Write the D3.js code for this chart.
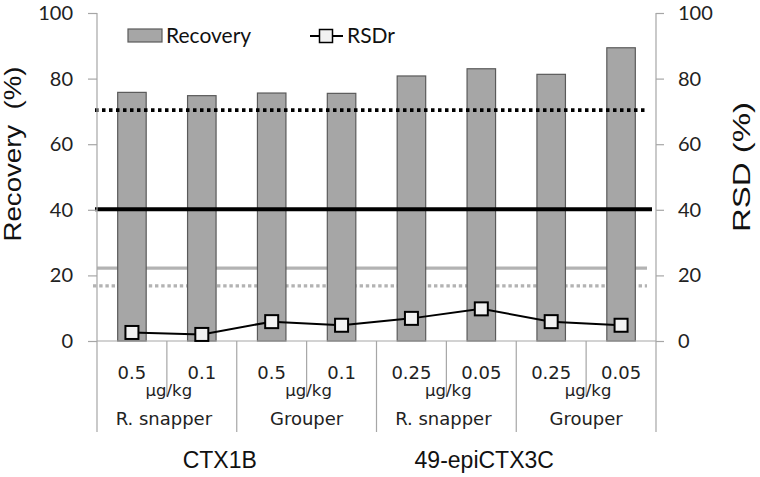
<!DOCTYPE html>
<html><head><meta charset="utf-8">
<script src="https://cdn.jsdelivr.net/npm/d3@7"></script>
<style>body{margin:0;background:#fff}svg{display:block}</style>
</head><body>
<svg id="c" width="760" height="477"></svg>
<script>
const doses = ["0.5","0.1","0.5","0.1","0.25","0.05","0.25","0.05"];
const species = ["R. snapper","Grouper","R. snapper","Grouper"];
const toxins = ["CTX1B","49-epiCTX3C"];
const recovery = [75.8,74.8,75.6,75.5,80.8,83.0,81.3,89.4];
const rsdr = [2.6,2.0,5.9,4.8,6.9,9.8,5.9,4.8];
const refLines = [
  {v:70.4, color:"#000", w:3.6, dash:"3.5,3.5", behind:false, x0:-2, x1:-9},
  {v:40.2, color:"#000", w:4, dash:null, behind:false, x0:-2, x1:-4},
  {v:22.2, color:"#b3b3b3", w:3.2, dash:null, behind:true, x0:0, x1:-9},
  {v:16.8, color:"#b3b3b3", w:3.3, dash:"3.4,2.8", behind:true, x0:-4, x1:-9}
];
const ticks = [0,20,40,60,80,100];

const svg = d3.select("#c");
const L=97, R=656, T=13, B=341;
const idx = d3.range(doses.length);
const x = d3.scaleBand().domain(idx).range([L,R]).paddingInner(0).paddingOuter(0);
const y = d3.scaleLinear().domain([0,100]).range([B,T]);
const y2 = d3.scaleLinear().domain([0,100]).range([B,T]);
const axisCol = "#a6a6a6";

const drawRef = d => {
  svg.append("line").attr("x1",L+d.x0).attr("x2",R+d.x1)
    .attr("y1",y(d.v)).attr("y2",y(d.v))
    .attr("stroke",d.color).attr("stroke-width",d.w)
    .attr("stroke-dasharray",d.dash);
};
refLines.filter(d=>d.behind).forEach(drawRef);

// bars
const bw = 28.5;
svg.selectAll("rect.bar").data(recovery).join("rect").attr("class","bar")
  .attr("x",(d,i)=>x(i)+x.bandwidth()/2-bw/2).attr("width",bw)
  .attr("y",d=>y(d)).attr("height",d=>B-y(d))
  .attr("fill","#a6a6a6").attr("stroke","#5a5a5a").attr("stroke-width",1.2);

refLines.filter(d=>!d.behind).forEach(drawRef);

// axes
const gl = svg.append("g").attr("transform",`translate(${L},0)`)
  .call(d3.axisLeft(y).tickValues(ticks).tickSize(9).tickPadding(15));
const gr = svg.append("g").attr("transform",`translate(${R},0)`)
  .call(d3.axisRight(y2).tickValues(ticks).tickSize(8).tickPadding(14));
[gl,gr].forEach(g=>{
  g.select(".domain").remove();
  g.selectAll(".tick line").attr("stroke",axisCol).attr("stroke-width",1.2);
  g.selectAll(".tick text").attr("font-family","Lato, sans-serif").attr("font-size",20).attr("fill","#222");
});
svg.append("line").attr("x1",L).attr("x2",L).attr("y1",T).attr("y2",432).attr("stroke",axisCol).attr("stroke-width",1.2);
svg.append("line").attr("x1",R).attr("x2",R).attr("y1",T).attr("y2",432).attr("stroke",axisCol).attr("stroke-width",1.2);
svg.append("line").attr("x1",L).attr("x2",R).attr("y1",B).attr("y2",B).attr("stroke",axisCol).attr("stroke-width",1.2);

// category separators
d3.range(1,doses.length).forEach(k=>{
  const xx = L + k*x.bandwidth();
  svg.append("line").attr("x1",xx).attr("x2",xx).attr("y1",B).attr("y2",k%2? 396:432)
    .attr("stroke",axisCol).attr("stroke-width",1.2);
});

// RSDr line + markers
const line = d3.line().x((d,i)=>x(i)+x.bandwidth()/2).y(d=>y2(d));
svg.append("path").datum(rsdr).attr("d",line).attr("fill","none").attr("stroke","#000").attr("stroke-width",2);
const ms = 13;
svg.selectAll("rect.mk").data(rsdr).join("rect").attr("class","mk")
  .attr("x",(d,i)=>x(i)+x.bandwidth()/2-ms/2).attr("y",d=>y2(d)-ms/2)
  .attr("width",ms).attr("height",ms)
  .attr("fill","#f2f2f2").attr("stroke","#000").attr("stroke-width",2);

// category labels
const lab = "DejaVu Sans, sans-serif";
svg.selectAll("text.dose").data(doses).join("text").attr("class","dose")
  .attr("x",(d,i)=>x(i)+x.bandwidth()/2).attr("y",379)
  .attr("text-anchor","middle").attr("font-family",lab).attr("font-size",18).attr("fill","#222").text(d=>d);
species.forEach((s,j)=>{
  const cx = L + (2*j+1)*x.bandwidth();
  svg.append("text").attr("x",cx+2).attr("y",396).attr("text-anchor","middle")
    .attr("font-family",lab).attr("font-size",16.5).attr("fill","#222").text("\u00b5g/kg");
  svg.append("text").attr("x",cx).attr("y",425).attr("text-anchor","middle")
    .attr("font-family",lab).attr("font-size",18).attr("fill","#222")
    .attr("dx", s==="R. snapper"? -3:0).text(s);
});
toxins.forEach((t,j)=>{
  const cx = L + (4*j+2)*x.bandwidth();
  svg.append("text").attr("x",cx + (j===0? -17 : -32)).attr("y",468).attr("text-anchor","middle")
    .attr("font-family","Liberation Sans, Arial, sans-serif").attr("font-size",23).attr("fill","#111").text(t);
});

// axis titles
svg.append("text").attr("transform","translate(21,154) rotate(-90)").attr("text-anchor","middle")
  .attr("font-family","Liberation Sans, Arial, sans-serif").attr("font-size",24).attr("fill","#111")
  .attr("textLength",175).attr("lengthAdjust","spacingAndGlyphs").style("white-space","pre").text("Recovery  (%)");
svg.append("text").attr("transform","translate(750,167) rotate(-90)").attr("text-anchor","middle")
  .attr("font-family","Liberation Sans, Arial, sans-serif").attr("font-size",24).attr("fill","#111")
  .attr("textLength",130).attr("lengthAdjust","spacingAndGlyphs").text("RSD (%)");

// legend
const lg = svg.append("g");
lg.append("rect").attr("x",128).attr("y",29).attr("width",34).attr("height",13)
  .attr("fill","#a6a6a6").attr("stroke","#5a5a5a").attr("stroke-width",1.2);
lg.append("text").attr("x",166).attr("y",43).attr("font-family","Lato, sans-serif").attr("font-size",21).attr("fill","#111").text("Recovery");
lg.append("line").attr("x1",310).attr("x2",343).attr("y1",36).attr("y2",36).attr("stroke","#000").attr("stroke-width",2);
lg.append("rect").attr("x",319.5).attr("y",29.5).attr("width",13).attr("height",13)
  .attr("fill","#f2f2f2").attr("stroke","#000").attr("stroke-width",1.5);
lg.append("text").attr("x",347).attr("y",43).attr("font-family","Lato, sans-serif").attr("font-size",21).attr("fill","#111").text("RSDr");
</script>
</body></html>
